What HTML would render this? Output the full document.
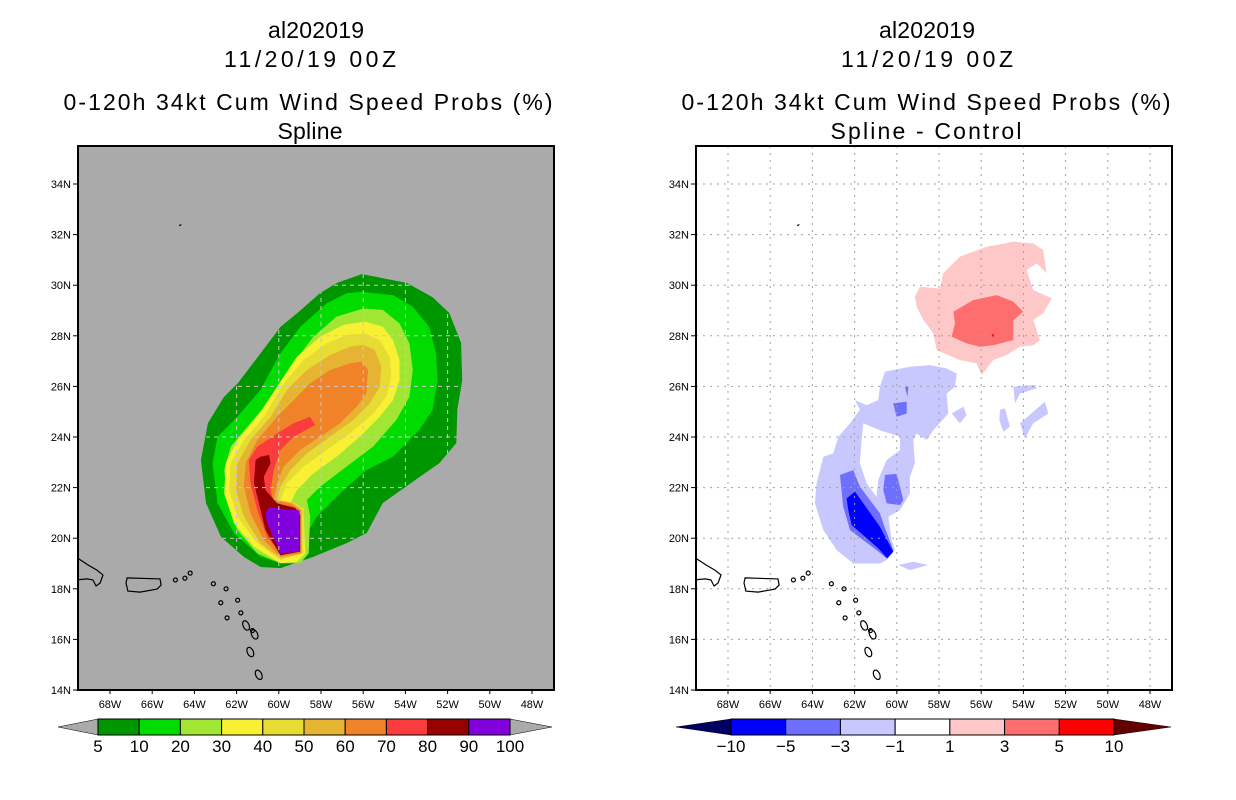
<!DOCTYPE html>
<html><head><meta charset="utf-8"><style>
html,body{margin:0;padding:0;background:#fff;}
svg{display:block;font-family:"Liberation Sans",sans-serif;}
</style></head><body>
<svg id="chart" width="1236" height="800" viewBox="0 0 1236 800" xmlns="http://www.w3.org/2000/svg">
<defs>
<clipPath id="clipL"><rect x="78" y="146" width="476" height="544"/></clipPath>
<clipPath id="clipR"><rect x="696" y="146" width="476" height="544"/></clipPath>
<clipPath id="clipOuter"><path id="outerPath" d=""/></clipPath>
</defs>
<g id="titles">
<text x="316" y="38" text-anchor="middle" font-size="23" textLength="96">al202019</text>
<text x="310" y="67" text-anchor="middle" font-size="23" textLength="172">11/20/19 00Z</text>
<text x="308" y="110" text-anchor="middle" font-size="23" textLength="489">0-120h 34kt Cum Wind Speed Probs (%)</text>
<text x="310" y="139" text-anchor="middle" font-size="23" textLength="65">Spline</text>
<text x="927" y="38" text-anchor="middle" font-size="23" textLength="96">al202019</text>
<text x="927" y="67" text-anchor="middle" font-size="23" textLength="172">11/20/19 00Z</text>
<text x="926" y="110" text-anchor="middle" font-size="23" textLength="489">0-120h 34kt Cum Wind Speed Probs (%)</text>
<text x="926" y="139" text-anchor="middle" font-size="23" textLength="191">Spline - Control</text>
</g>
<g id="leftPanel"></g>
<g id="rightPanel"></g>
<g id="cbars"></g>
</svg>
<script>
// ---------- data ----------
const lonTicks = [68,66,64,62,60,58,56,54,52,50,48];
const latTicks = [14,16,18,20,22,24,26,28,30,32,34];
const probLevels = [5,10,20,30,40,50,60,70,80,90,100];
const probColors = ["#009600","#00dc00","#a0e632","#f8f032","#e6dc32","#e6b432","#f08228","#fa3c3c","#960000","#8200dc"];
const diffLevels = [-10,-5,-3,-1,1,3,5,10];
const diffColors = ["#0000ff","#6e6eff","#c8c8ff","#ffffff","#ffc8c8","#ff6e6e","#ff0000"];
const diffEnds = ["#000064","#640000"];
const prob5 = [[56.06,30.44],[53.94,30.09],[52.72,29.53],[51.92,28.9],[51.36,27.72],[51.31,26.25],[51.54,25.07],[51.59,23.76],[52.39,22.97],[53.33,22.42],[55.07,21.39],[55.83,20.21],[56.77,19.81],[58.37,19.26],[59.92,18.82],[60.86,18.86],[61.66,19.26],[62.74,20.05],[63.45,21.39],[63.69,23.09],[63.36,24.55],[62.6,25.58],[61.94,26.13],[61.0,27.16],[59.92,28.35],[59.12,28.9],[58.04,29.69],[57.24,30.09]];
const prob10 = [[56.08,29.74],[54.59,29.61],[53.65,29.15],[52.87,28.36],[52.55,27.31],[52.47,26.25],[52.71,25.07],[53.34,24.28],[54.59,23.22],[55.85,22.69],[57.1,21.77],[58.2,20.85],[58.67,20.19],[58.98,19.14],[59.92,19.01],[60.87,19.27],[62.12,20.19],[62.9,21.38],[63.14,22.96],[62.9,24.01],[61.96,24.8],[60.87,25.86],[59.92,27.31],[58.98,28.36],[57.73,29.28],[56.79,29.68]];
const prob20 = [[56.0,29.08],[55.06,29.02],[54.28,28.49],[53.81,27.7],[53.65,26.65],[53.81,25.59],[54.43,24.67],[55.53,23.62],[56.79,22.83],[58.04,22.04],[58.67,21.51],[58.51,20.85],[58.59,19.4],[58.98,19.01],[59.92,19.01],[61.02,19.4],[61.96,20.32],[62.43,21.38],[62.59,22.69],[62.28,23.62],[61.49,24.41],[60.55,25.33],[59.45,26.78],[58.36,27.96],[57.26,28.76]];
const prob30 = [[55.92,28.56],[55.06,28.36],[54.59,27.83],[54.28,27.04],[54.28,26.25],[54.59,25.46],[55.22,24.8],[56.16,24.01],[57.26,23.22],[58.36,22.56],[59.14,21.9],[59.45,21.38],[58.83,21.18],[58.75,19.4],[59.14,19.07],[59.92,19.01],[61.18,19.66],[62.12,20.59],[62.59,21.77],[62.51,22.96],[61.96,23.88],[61.02,24.8],[60.08,25.99],[59.14,27.17],[58.04,27.96],[56.94,28.43]];
const prob40 = [[55.92,28.1],[55.22,27.83],[54.75,27.17],[54.67,26.38],[54.9,25.59],[55.53,24.93],[56.63,24.14],[57.73,23.49],[58.83,22.83],[59.61,22.17],[59.92,21.51],[59.14,21.38],[58.83,21.11],[58.83,19.4],[59.92,19.14],[61.02,19.8],[61.96,20.85],[62.35,21.9],[62.28,22.96],[61.65,23.88],[60.71,24.8],[59.77,26.12],[58.83,27.04],[57.73,27.7],[56.79,28.03]];
const prob50 = [[56.0,27.64],[55.45,27.44],[55.14,26.78],[55.22,25.99],[55.69,25.33],[56.47,24.67],[57.57,24.01],[58.67,23.35],[59.45,22.69],[59.92,22.04],[60.08,21.51],[59.3,21.38],[58.9,21.11],[58.9,19.4],[59.92,19.2],[60.87,19.8],[61.65,20.85],[62.04,21.9],[61.96,22.96],[61.34,23.88],[60.39,24.8],[59.61,25.86],[58.67,26.65],[57.57,27.24],[56.63,27.57]];
const prob60 = [[56.08,26.98],[55.77,26.65],[55.85,25.73],[56.31,25.2],[57.1,24.54],[58.04,24.01],[58.98,23.49],[59.77,22.83],[60.08,22.17],[60.24,21.51],[59.45,21.38],[58.98,21.11],[58.98,19.4],[59.92,19.27],[60.71,19.93],[61.34,20.98],[61.65,22.04],[61.57,22.96],[61.02,23.88],[60.08,24.8],[59.45,25.33],[58.51,26.12],[57.57,26.65],[56.63,26.91]];
const prob70 = [[58.51,24.8],[58.28,24.47],[59.3,24.01],[59.92,23.49],[60.24,22.69],[60.39,21.9],[60.24,21.38],[59.3,21.25],[59.06,21.11],[59.06,19.53],[59.92,19.4],[60.55,20.06],[61.02,21.11],[61.34,22.17],[61.42,23.09],[61.02,23.62],[60.08,24.14],[59.3,24.54]];
const prob80 = [[60.47,23.29],[60.39,22.96],[60.71,22.43],[60.63,21.9],[60.08,21.38],[59.22,21.18],[58.98,20.92],[58.98,19.47],[59.92,19.33],[60.63,20.32],[60.94,21.38],[61.18,22.17],[61.1,23.09],[60.87,23.22]];
const prob90 = [[60.47,21.22],[59.02,21.09],[59.02,19.47],[59.92,19.4],[60.55,20.59],[60.63,20.98]];
const diffPlus1 = [[57.8,30.47],[57.01,31.13],[55.74,31.52],[54.48,31.72],[53.53,31.65],[53.06,31.39],[52.9,30.47],[53.37,30.86],[53.85,30.6],[53.53,29.81],[52.66,29.48],[53.06,28.89],[53.53,28.62],[53.22,27.83],[53.53,27.63],[54.16,27.57],[54.79,27.24],[55.43,27.04],[55.98,26.45],[56.22,26.91],[57.01,27.04],[58.11,27.44],[58.27,28.1],[58.74,28.62],[59.06,29.15],[59.14,29.55],[58.9,29.94],[57.95,29.87]];
const diffPlus3 = [[57.32,28.95],[56.38,29.41],[55.27,29.61],[54.48,29.35],[54.01,28.95],[54.48,28.62],[54.48,27.83],[55.43,27.63],[56.06,27.57],[56.69,27.7],[57.4,27.97],[57.24,28.49]];
const diffPlus5 = [[55.52,28.06],[55.4,28.06],[55.42,27.92]];
const diffMinus1 = [[60.56,26.58],[59.38,26.78],[58.43,26.84],[57.64,26.71],[57.16,26.51],[57.24,25.99],[57.64,25.72],[57.56,24.93],[58.27,24.27],[58.59,23.88],[59.06,24.14],[59.22,23.88],[59.14,22.96],[59.38,22.43],[59.38,21.77],[59.85,21.11],[60.4,20.85],[60.25,19.93],[60.09,19.53],[60.48,19.14],[60.8,19.0],[62.06,19.0],[62.85,19.53],[63.48,20.32],[63.88,21.38],[63.8,22.17],[63.48,23.22],[63.01,23.35],[62.77,24.01],[62.22,24.54],[61.75,25.07],[61.98,25.46],[61.43,25.26],[60.88,25.46],[60.8,25.99]];
const diffHole = [[61.59,24.54],[60.8,24.27],[59.85,24.01],[59.85,23.48],[60.48,23.09],[60.88,22.3],[60.96,21.64],[61.43,22.17],[61.75,22.96],[61.67,23.88]];
const diffMinus1a = [[57.4,24.93],[56.85,25.2],[56.69,24.87],[57.01,24.54]];
const diffMinus1b = [[55.11,25.07],[54.87,25.13],[54.64,24.41],[54.95,24.21],[55.14,24.67]];
const diffMinus1c = [[54.48,25.99],[53.45,26.06],[53.37,25.92],[54.16,25.72],[54.4,25.33]];
const diffMinus1d = [[54.16,24.54],[52.98,25.4],[52.82,24.93],[53.53,24.54],[53.93,23.95]];
const diffMinus1e = [[59.93,18.94],[59.22,19.07],[58.51,18.94],[59.38,18.74]];
const diffMinus3 = [[62.69,22.5],[62.06,22.69],[61.75,22.04],[60.8,20.98],[60.64,20.59],[60.17,19.53],[60.48,19.2],[60.96,19.53],[62.22,20.32],[62.54,21.25],[62.62,21.9]];
const diffMinus3a = [[60.56,22.5],[60.01,22.54],[59.69,21.51],[59.85,21.31],[60.48,21.38],[60.64,21.9]];
const diffMinus3b = [[60.17,25.33],[59.53,25.4],[59.53,24.93],[60.01,24.8]];
const diffMinus3c = [[59.61,25.99],[59.45,25.99],[59.5,25.59]];
const diffMinus5 = [[62.38,21.57],[61.98,21.84],[60.8,20.45],[60.17,19.47],[60.45,19.2],[60.88,19.6],[62.14,20.52],[62.3,21.11]];
const hispaniola = [[69.6,19.25],[69.04,18.94],[68.62,18.74],[68.33,18.55],[68.47,18.23],[68.66,18.11],[68.81,18.35],[69.09,18.39],[69.6,18.35]];
const puertoRico = [[67.19,18.43],[65.63,18.39],[65.58,18.15],[65.77,17.99],[66.58,17.87],[67.15,17.91],[67.24,18.23]];
const smallIslands = [[64.9,18.35],[64.45,18.42],[64.2,18.62],[62.5,18.0],[63.1,18.2],[61.95,17.55],[62.75,17.45],[61.8,17.05],[62.45,16.85],[61.25,16.35],[61.55,16.55],[61.15,16.2],[61.35,15.5],[60.95,14.6]];
const bermuda = [[64.72,32.35],[64.62,32.4]];

const svg = document.getElementById('chart');
const NS = 'http://www.w3.org/2000/svg';
const X = (lon, off) => 110 + off + (68 - lon) * 21.1;
const Y = (lat) => 690 - (lat - 14) * 25.3;
function mk(tag, attrs, parent) {
  const e = document.createElementNS(NS, tag);
  for (const k in attrs) e.setAttribute(k, attrs[k]);
  parent.appendChild(e);
  return e;
}
function pathD(pts, off, close) {
  return pts.map((p, i) => (i ? 'L' : 'M') + X(p[0], off).toFixed(1) + ',' + Y(p[1]).toFixed(1)).join('') + (close ? 'Z' : '');
}
function poly(parent, pts, off, fill, name) {
  const e = mk('path', {d: pathD(pts, off, true), fill: fill}, parent);
  
  
  return e;
}
function drawAxes(g, off, gridColor, dash, clipId) {
  const gg = mk('g', {'clip-path': 'url(#' + clipId + ')'}, g);
  
  
  lonTicks.forEach(l => {
    const ln = mk('line', {x1: X(l, off), x2: X(l, off), y1: 146, y2: 690, stroke: gridColor, 'stroke-width': 1, 'stroke-dasharray': dash}, gg);
    
    
  });
  latTicks.forEach(l => {
    const ln = mk('line', {x1: 78 + off, x2: 554 + off, y1: Y(l), y2: Y(l), stroke: gridColor, 'stroke-width': 1, 'stroke-dasharray': dash}, gg);
    
    
  });
}
function drawFrame(g, off) {
  lonTicks.forEach(l => {
    mk('line', {x1: X(l, off), x2: X(l, off), y1: 690, y2: 694, stroke: '#000', 'stroke-width': 1}, g);
    const t = mk('text', {x: X(l, off), y: 708, 'text-anchor': 'middle', 'font-size': 11}, g);
    t.textContent = l + 'W';
    
    
  });
  latTicks.forEach(l => {
    mk('line', {x1: 73 + off, x2: 78 + off, y1: Y(l), y2: Y(l), stroke: '#000', 'stroke-width': 1}, g);
    const t = mk('text', {x: 71 + off, y: Y(l) + 4, 'text-anchor': 'end', 'font-size': 11}, g);
    t.textContent = l + 'N';
    
    
  });
  const b = mk('rect', {x: 78 + off, y: 146, width: 476, height: 544, fill: 'none', stroke: '#000', 'stroke-width': 2}, g);
  
  
}
function drawCoast(g, off) {
  const c = mk('g', {fill: 'none', stroke: '#000', 'stroke-width': 1.2}, g);
  
  
  mk('path', {d: pathD(hispaniola, off, false)}, c);
  mk('path', {d: pathD(puertoRico, off, true)}, c);
  mk('path', {d: pathD(bermuda, off, false)}, c);
  smallIslands.forEach((p, i) => {
    const big = i >= 10;
    mk('ellipse', {cx: X(p[0], off), cy: Y(p[1]), rx: big ? 3 : 2, ry: big ? 5 : 2,
      transform: 'rotate(-25 ' + X(p[0], off) + ' ' + Y(p[1]) + ')'}, c);
  });
}

const L = document.getElementById('leftPanel');
const lg = mk('g', {'clip-path': 'url(#clipL)'}, L);
mk('rect', {x: 78, y: 146, width: 476, height: 544, fill: '#aaaaaa'}, lg);
const probPolys = [prob5, prob10, prob20, prob30, prob40, prob50, prob60, prob70, prob80, prob90];
probPolys.forEach((p, i) => poly(lg, p, 0, probColors[i], 'prob-contour-' + probLevels[i]));
document.getElementById('outerPath').setAttribute('d', pathD(prob5, 0, true));
drawAxes(lg, 0, '#c8c8c8', '4,4', 'clipOuter');
drawCoast(lg, 0);
drawFrame(L, 0);

const R = document.getElementById('rightPanel');
const RO = 618;
const rg = mk('g', {'clip-path': 'url(#clipR)'}, R);
mk('rect', {x: 696, y: 146, width: 476, height: 544, fill: '#ffffff'}, rg);
poly(rg, diffPlus1, RO, diffColors[4], 'diff-contour-plus1');
poly(rg, diffPlus3, RO, diffColors[5], 'diff-contour-plus3');
poly(rg, diffPlus5, RO, diffColors[6], 'diff-contour-plus5');
poly(rg, diffMinus1, RO, diffColors[2], 'diff-contour-minus1');
poly(rg, diffHole, RO, '#ffffff', 'diff-contour-hole');
[diffMinus1a, diffMinus1b, diffMinus1c, diffMinus1d, diffMinus1e].forEach(p => poly(rg, p, RO, diffColors[2], 'diff-contour-minus1-patch'));
[diffMinus3, diffMinus3a, diffMinus3b, diffMinus3c].forEach(p => poly(rg, p, RO, diffColors[1], 'diff-contour-minus3'));
poly(rg, diffMinus5, RO, diffColors[0], 'diff-contour-minus5');
drawAxes(rg, RO, '#a0a0a0', '2,5', 'clipR');
drawCoast(rg, RO);
drawFrame(R, RO);

const CB = document.getElementById('cbars');
function colorbar(x0, x1, cols, labels, endL, endR, tipL, tipR, name) {
  const g = mk('g', {}, CB);
  
  
  const y0 = 719, y1 = 735, ym = 727;
  mk('polygon', {points: `${tipL},${ym} ${x0},${y0} ${x0},${y1}`, fill: endL, stroke: '#000', 'stroke-width': 0.5}, g);
  mk('polygon', {points: `${tipR},${ym} ${x1},${y0} ${x1},${y1}`, fill: endR, stroke: '#000', 'stroke-width': 0.5}, g);
  const w = (x1 - x0) / cols.length;
  cols.forEach((c, i) => {
    const r = mk('rect', {x: x0 + i * w, y: y0, width: w, height: y1 - y0, fill: c, stroke: '#000', 'stroke-width': 1}, g);
    
    
  });
  labels.forEach((l, i) => {
    const t = mk('text', {x: x0 + i * w, y: 752, 'text-anchor': 'middle', 'font-size': 17}, g);
    t.textContent = l < 0 ? '\u2212' + (-l) : String(l);
    
    
  });
}
colorbar(98, 510, probColors, probLevels, '#aaaaaa', '#aaaaaa', 58, 552, 'prob-colorbar');
colorbar(731, 1114, diffColors, diffLevels, diffEnds[0], diffEnds[1], 676, 1171, 'diff-colorbar');
</script>
</body></html>
